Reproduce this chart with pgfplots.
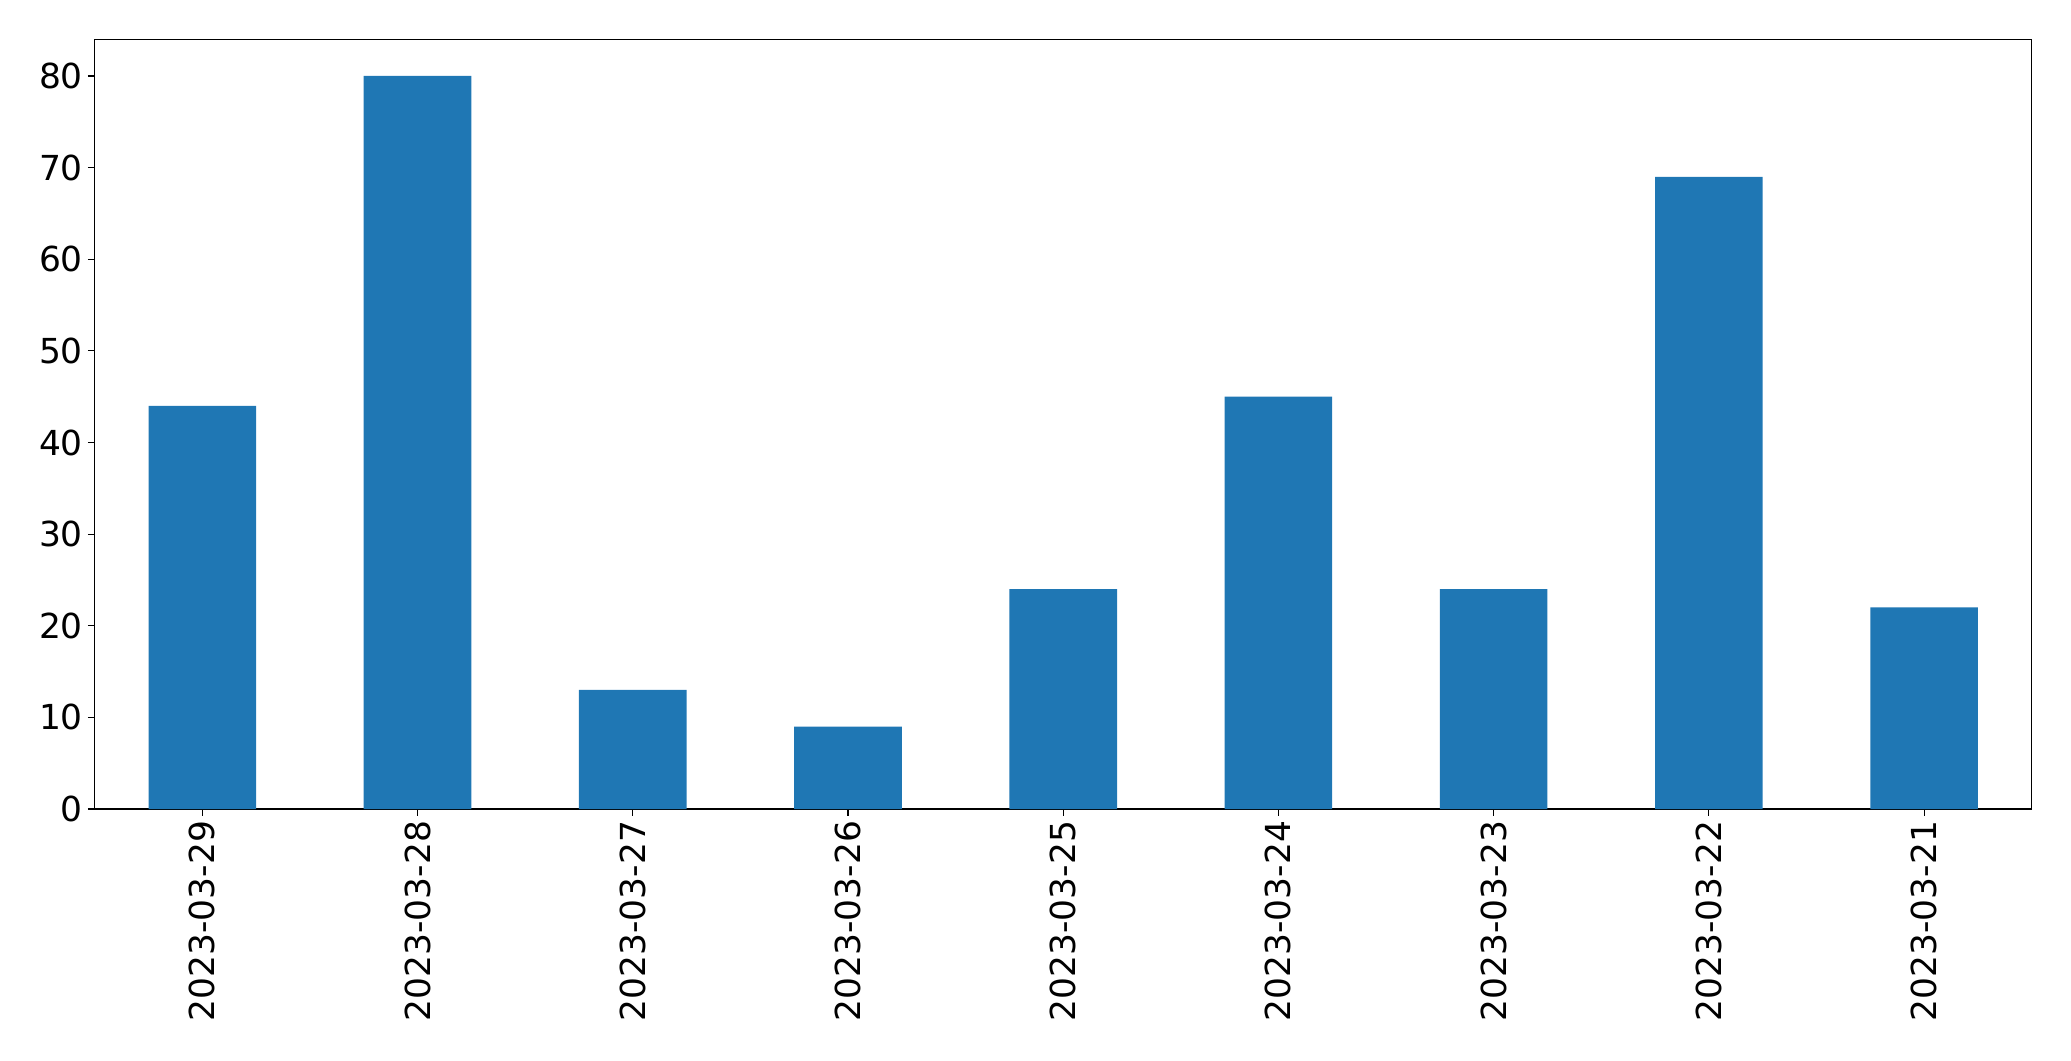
\documentclass[border=0pt]{standalone}
\usepackage{pgfplots}
\pgfplotsset{compat=1.18}
\usepackage{fontspec}
\setmainfont{DejaVu Sans}
\definecolor{mplblue}{HTML}{1F77B4}
\begin{document}
\begin{tikzpicture}
\useasboundingbox (-68.2pt,-181.4pt) rectangle (1394.6pt+28.3pt,554.2pt+28.3pt);
\begin{axis}[
  at={(0,0)}, anchor=south west,
  scale only axis,
  width=1394.6pt, height=554.2pt,
  xmin=-0.5, xmax=8.5, ymin=0, ymax=84,
  ybar, bar width=0.5,
  xtick={0,...,8},
  xticklabels={2023-03-29,2023-03-28,2023-03-27,2023-03-26,2023-03-25,2023-03-24,2023-03-23,2023-03-22,2023-03-21},
  x tick label style={rotate=90, anchor=east, font=\fontsize{24.8}{29}\selectfont},
  y tick label style={font=\fontsize{24.8}{29}\selectfont},
  ytick={0,10,...,80},
  /pgf/number format/assume math mode=true,
  tick align=outside,
  major tick length=5pt,
  tick style={black, line width=0.8pt},
  axis line style={line width=0.8pt},
  xtick pos=bottom, ytick pos=left,
]
\addplot[fill=mplblue, draw=none] coordinates {(0,44) (1,80) (2,13) (3,9) (4,24) (5,45) (6,24) (7,69) (8,22)};
\end{axis}
\end{tikzpicture}
\end{document}
